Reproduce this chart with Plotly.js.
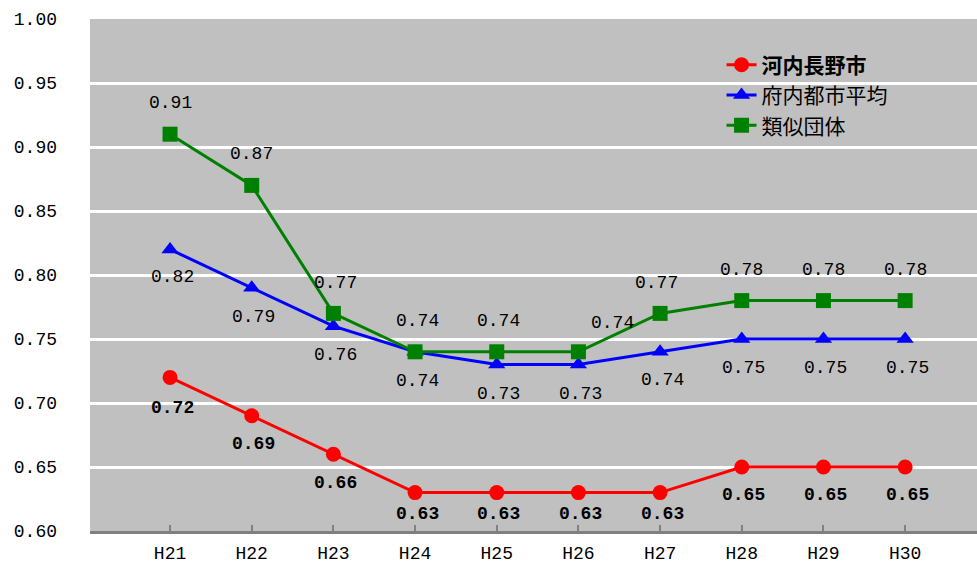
<!DOCTYPE html>
<html>
<head>
<meta charset="utf-8">
<script src="https://cdn.plot.ly/plotly-3.0.1.min.js"></script>
<style>
  html, body { margin: 0; padding: 0; background: #ffffff; }
  #chart { width: 977px; height: 568px; }
</style>
</head>
<body>
<div id="chart"></div>
<script>
// 年度
const years = ['H21', 'H22', 'H23', 'H24', 'H25', 'H26', 'H27', 'H28', 'H29', 'H30'];

// 系列名
const nameKawachinagano = '河内長野市';
const nameFunaiAvg = '府内都市平均';
const nameRuiji = '類似団体';

// 各系列の値
const kawachinagano = [0.72, 0.69, 0.66, 0.63, 0.63, 0.63, 0.63, 0.65, 0.65, 0.65];
const funaiAvg      = [0.82, 0.79, 0.76, 0.74, 0.73, 0.73, 0.74, 0.75, 0.75, 0.75];
const ruiji         = [0.91, 0.87, 0.77, 0.74, 0.74, 0.74, 0.77, 0.78, 0.78, 0.78];

const numFont = 'Liberation Mono, DejaVu Sans Mono, monospace';
const jpFont = 'Noto Sans CJK JP, sans-serif';

function series(name, values, color, symbol) {
  return {
    type: 'scatter',
    mode: 'lines+markers',
    name: name,
    x: years,
    y: values,
    line: { color: color, width: 3 },
    marker: { color: color, symbol: symbol, size: 15 },
    hoverinfo: 'skip'
  };
}

const traces = [
  series('<b>' + nameKawachinagano + '</b>', kawachinagano, '#ff0000', 'circle'),
  series(nameFunaiAvg, funaiAvg, '#0000ff', 'triangle-up'),
  series(nameRuiji, ruiji, '#008000', 'square')
];

// データラベル（各点からのずらし量）
const annotations = [];
function labels(values, yshifts, bold, xshifts) {
  values.forEach((v, i) => {
    annotations.push({
      x: years[i], y: v, xref: 'x', yref: 'y',
      text: bold ? '<b>' + v.toFixed(2) + '</b>' : v.toFixed(2),
      showarrow: false,
      xshift: xshifts ? xshifts[i] : 2,
      yshift: yshifts[i],
      font: { family: numFont, size: 18, color: '#000000' }
    });
  });
}
labels(kawachinagano, [-31, -28, -29, -21, -21, -21, -21, -28, -28, -28], true, null);
labels(funaiAvg, [-28, -29, -29, -29, -29, -29, -28, -29, -29, -29], false, null);
labels(ruiji, [31, 31, 30, 31, 31, 29, 30, 31, 31, 31], false, [0, 0, 2, 2, 2, 34, -4, 0, 0, 0]);

const layout = {
  width: 977,
  height: 568,
  margin: { l: 90, r: 0, t: 19, b: 37 },
  paper_bgcolor: '#ffffff',
  plot_bgcolor: '#c0c0c0',
  showlegend: true,
  legend: {
    x: 0.712, y: 0.95, xanchor: 'left', yanchor: 'top',
    bgcolor: 'rgba(0,0,0,0)',
    borderwidth: 0,
    tracegroupgap: 0,
    font: { family: jpFont, size: 21, color: '#000000' }
  },
  xaxis: {
    type: 'category',
    range: [-0.98, 9.88],
    showgrid: false,
    showline: true,
    linecolor: '#808080',
    linewidth: 3,
    ticks: 'inside',
    ticklen: 6,
    tickwidth: 2,
    tickcolor: '#808080',
    ticklabelstandoff: 3,
    tickfont: { family: numFont, size: 18, color: '#000000' },
    zeroline: false,
    fixedrange: true
  },
  yaxis: {
    range: [0.6, 1.0],
    dtick: 0.05,
    tick0: 0.6,
    tickformat: '.2f',
    showgrid: true,
    gridcolor: '#ffffff',
    gridwidth: 3,
    showline: false,
    zeroline: false,
    ticks: '',
    ticklabelstandoff: 32,
    tickfont: { family: numFont, size: 18, color: '#000000' },
    fixedrange: true
  },
  annotations: annotations
};

Plotly.newPlot('chart', traces, layout, { displayModeBar: false, staticPlot: true });
</script>
</body>
</html>
